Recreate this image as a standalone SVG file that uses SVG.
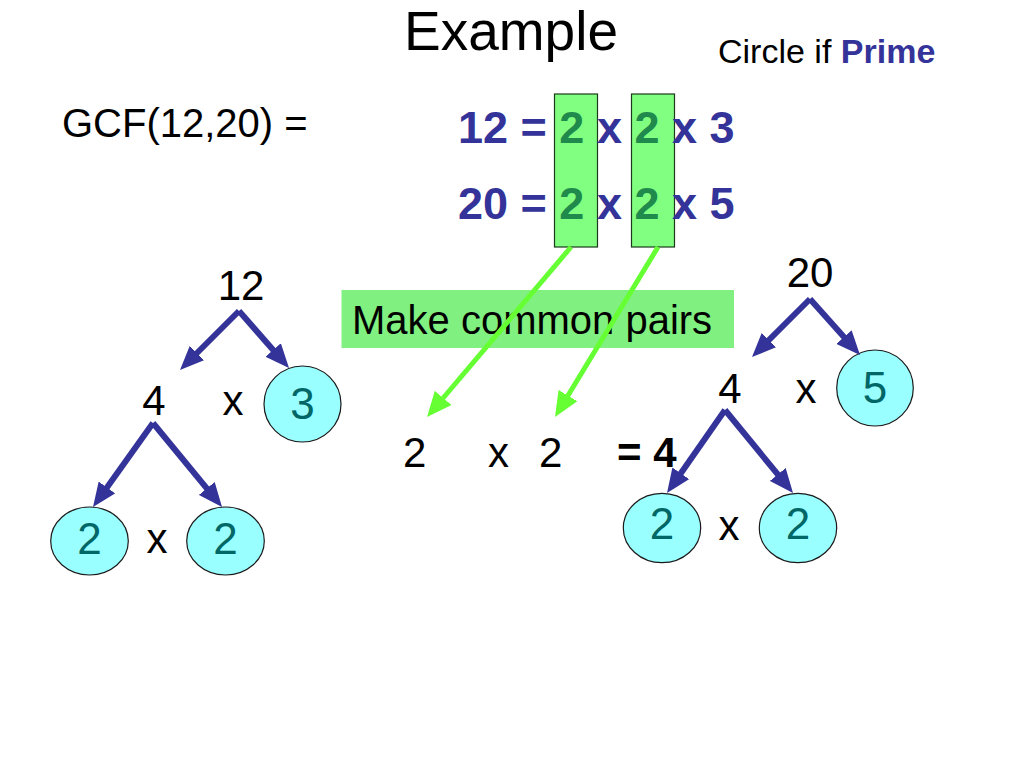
<svg xmlns="http://www.w3.org/2000/svg" width="1024" height="768" viewBox="0 0 1024 768">
<style>
text{font-family:"Liberation Sans",Arial,sans-serif;}
.lbl{font-size:42px;fill:#000;}
.dig{font-size:44px;fill:#006666;text-anchor:middle;}
.eq{font-size:45px;font-weight:bold;fill:#333399;}
.g{fill:#1F8A4C;}
.prime{fill:#99FFFF;stroke:#1a1a1a;stroke-width:1.2;}
.box{fill:#80FF80;stroke:#1a3a1a;stroke-width:1.2;}
.tree{stroke:#333399;stroke-width:6;fill:none;marker-end:url(#ab);}
.green{stroke:#66FF33;stroke-width:5;fill:none;marker-end:url(#ag);}
</style>
<defs>
<marker id="ab" viewBox="0 0 4 3.4" markerWidth="4" markerHeight="3.4" refX="2" refY="1.7" orient="auto" markerUnits="strokeWidth">
<path d="M0,0 L4,1.7 L0,3.4 z" fill="#333399"/>
</marker>
<marker id="ag" viewBox="0 0 5 4.4" markerWidth="5" markerHeight="4.4" refX="2.5" refY="2.2" orient="auto" markerUnits="strokeWidth">
<path d="M0,0 L5,2.2 L0,4.4 z" fill="#66FF33"/>
</marker>
</defs>
<rect width="1024" height="768" fill="#fff"/>

<g id="title"><text x="511" y="50" font-size="55" text-anchor="middle">Example</text></g>
<g id="circle-note"><text x="718" y="63" font-size="34">Circle if <tspan font-weight="bold" fill="#333399">Prime</tspan></text></g>
<g id="gcf"><text x="62" y="137" font-size="40">GCF(12,20) =</text></g>

<g id="common-boxes">
<rect class="box" x="554.5" y="94" width="43" height="153"/>
<rect class="box" x="631.5" y="94" width="43" height="153"/>
</g>
<g id="eq12"><text class="eq" x="458" y="143" xml:space="preserve">12 = <tspan class="g">2</tspan> x <tspan class="g">2</tspan> x 3</text></g>
<g id="eq20"><text class="eq" x="458" y="219" xml:space="preserve">20 = <tspan class="g">2</tspan> x <tspan class="g">2</tspan> x 5</text></g>

<g id="make-pairs">
<rect x="341.5" y="290" width="392.5" height="58" fill="#80F080"/>
<text x="352" y="334" font-size="40">Make common pairs</text>
</g>

<g id="tree12">
<text class="lbl" x="241" y="300" text-anchor="middle">12</text>
<text class="lbl" x="154" y="415" text-anchor="middle">4</text>
<text class="lbl" x="233" y="415" text-anchor="middle">x</text>
<ellipse class="prime" cx="302.5" cy="404" rx="38.5" ry="38"/>
<text class="dig" x="302.5" y="419">3</text>
<ellipse class="prime" cx="89.5" cy="541" rx="38.8" ry="34"/>
<text class="dig" x="89.5" y="554">2</text>
<text class="lbl" x="157" y="553" text-anchor="middle">x</text>
<ellipse class="prime" cx="225.5" cy="541" rx="38.8" ry="34"/>
<text class="dig" x="225.5" y="554">2</text>
</g>

<g id="tree20">
<text class="lbl" x="810" y="287" text-anchor="middle">20</text>
<text class="lbl" x="730" y="403" text-anchor="middle">4</text>
<text class="lbl" x="806" y="403" text-anchor="middle">x</text>
<ellipse class="prime" cx="875" cy="388" rx="38.3" ry="38"/>
<text class="dig" x="875" y="403">5</text>
<ellipse class="prime" cx="662" cy="528" rx="38.7" ry="34.7"/>
<text class="dig" x="662" y="539">2</text>
<text class="lbl" x="729" y="540" text-anchor="middle">x</text>
<ellipse class="prime" cx="798" cy="528" rx="38.7" ry="34.7"/>
<text class="dig" x="798" y="539">2</text>
</g>

<g id="result">
<text class="lbl" x="403" y="467">2</text>
<text class="lbl" x="488" y="467">x</text>
<text class="lbl" x="539" y="467">2</text>
<text class="lbl" x="617" y="467" font-weight="bold">= 4</text>
</g>

<g id="connectors">
<line class="tree" x1="239" y1="311" x2="188.5" y2="361.5"/>
<line class="tree" x1="239" y1="311" x2="281.1" y2="359"/>
<line class="tree" x1="153" y1="423" x2="100" y2="497.2"/>
<line class="tree" x1="153" y1="423" x2="214.4" y2="497.7"/>
<line class="tree" x1="810" y1="299" x2="760.5" y2="348.5"/>
<line class="tree" x1="810" y1="299" x2="852" y2="346"/>
<line class="tree" x1="725" y1="410" x2="673.9" y2="483.2"/>
<line class="tree" x1="725" y1="410" x2="785.4" y2="483.7"/>
<line class="green" x1="571" y1="247" x2="435.1" y2="407.5"/>
<line class="green" x1="658" y1="247" x2="561.5" y2="406.3"/>
</g>
</svg>
